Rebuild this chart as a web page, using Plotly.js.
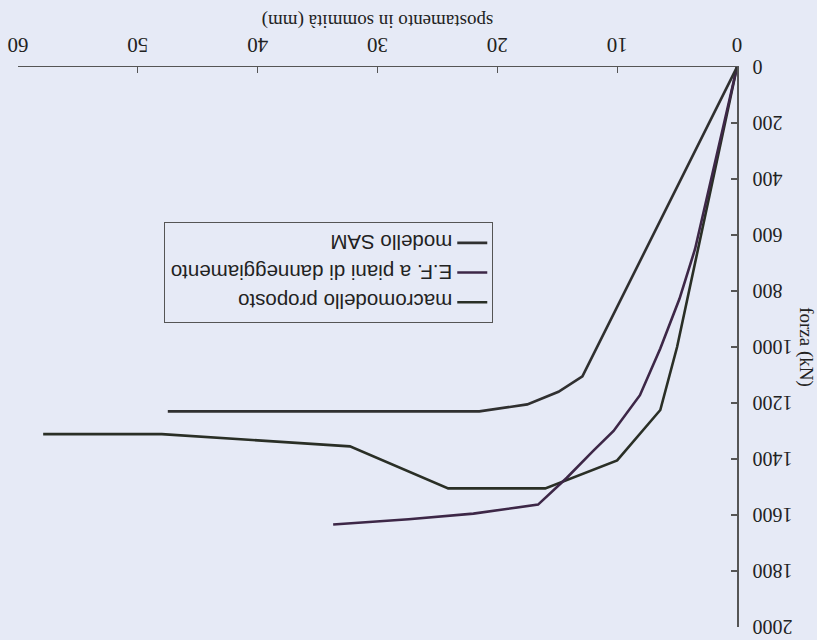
<!DOCTYPE html>
<html>
<head>
<meta charset="utf-8">
<script src="https://cdn.plot.ly/plotly-3.0.1.min.js"></script>
<style>
  html, body { margin: 0; padding: 0; background: #e6eaf6; }
  #chart { width: 817px; height: 640px; transform: rotate(180deg); transform-origin: 50% 50%; }
</style>
</head>
<body>
<div id="chart"></div>
<script>
// spostamento in sommità (mm) / forza (kN)
const macroX = [0, 5.0, 6.4, 10.0, 16.0, 24.1, 32.3, 48.0, 57.9];
const macroY = [0, 1000, 1225, 1405, 1505, 1505, 1355, 1311, 1311];

const efX = [0, 3.5, 4.8, 6.4, 8.1, 10.3, 12.0, 14.2, 16.6, 22.0, 27.4, 33.7];
const efY = [0, 650, 828, 1005, 1172, 1300, 1371, 1467, 1563, 1595, 1615, 1634];

const samX = [0, 12.9, 14.9, 17.5, 21.5, 47.5];
const samY = [0, 1105, 1160, 1205, 1230, 1230];

const names = ['macromodello proposto', 'E.F. a piani di danneggiamento', 'modello SAM'];
const xTicks = [0, 10, 20, 30, 40, 50, 60];
const yTicks = [0, 200, 400, 600, 800, 1000, 1200, 1400, 1600, 1800, 2000];

const serif = 'Liberation Serif, Times New Roman, serif';
const sans = 'Liberation Sans, Arial, sans-serif';

const traces = [
  {x: macroX, y: macroY, name: names[0], mode: 'lines', line: {color: '#2a2f26', width: 2.6}},
  {x: efX, y: efY, name: names[1], mode: 'lines', line: {color: '#3d2747', width: 2.6}},
  {x: samX, y: samY, name: names[2], mode: 'lines', line: {color: '#303030', width: 2.6}}
];

const layout = {
  width: 817, height: 640,
  paper_bgcolor: '#e6eaf6', plot_bgcolor: '#e6eaf6',
  margin: {l: 80, r: 18, t: 13, b: 67},
  font: {family: serif, color: '#222', size: 18},
  showlegend: true,
  legend: {
    x: 0.339, y: 0.367, xanchor: 'left', yanchor: 'middle',
    bgcolor: 'rgba(0,0,0,0)', bordercolor: '#555', borderwidth: 1,
    font: {family: sans, size: 20.5, color: '#222'},
    tracegroupgap: 0
  },
  xaxis: {
    range: [0, 60], tickvals: xTicks, ticktext: xTicks.map(String),
    showgrid: false, zeroline: false, showline: true, linecolor: '#555', linewidth: 1.5,
    ticks: 'inside', ticklen: 6, tickcolor: '#555', tickwidth: 1.2,
    ticklabeloverflow: 'allow', ticklabelstandoff: 2,
    tickfont: {family: serif, size: 21, color: '#222'},
    title: {text: 'spostamento in sommità (mm)', font: {family: serif, size: 19, color: '#222'}, standoff: 6}
  },
  yaxis: {
    range: [0, 2000], tickvals: yTicks, ticktext: yTicks.map(String),
    showgrid: false, zeroline: false, showline: true, linecolor: '#555', linewidth: 1.5,
    ticks: 'inside', ticklen: 6, tickcolor: '#555', tickwidth: 1.2,
    ticklabeloverflow: 'allow', ticklabelstandoff: 10,
    tickfont: {family: serif, size: 20, color: '#222'},
    title: {text: 'forza (kN)', font: {family: serif, size: 19, color: '#222'}, standoff: 2}
  }
};

Plotly.newPlot('chart', traces, layout, {displayModeBar: false, staticPlot: true});
</script>
</body>
</html>
